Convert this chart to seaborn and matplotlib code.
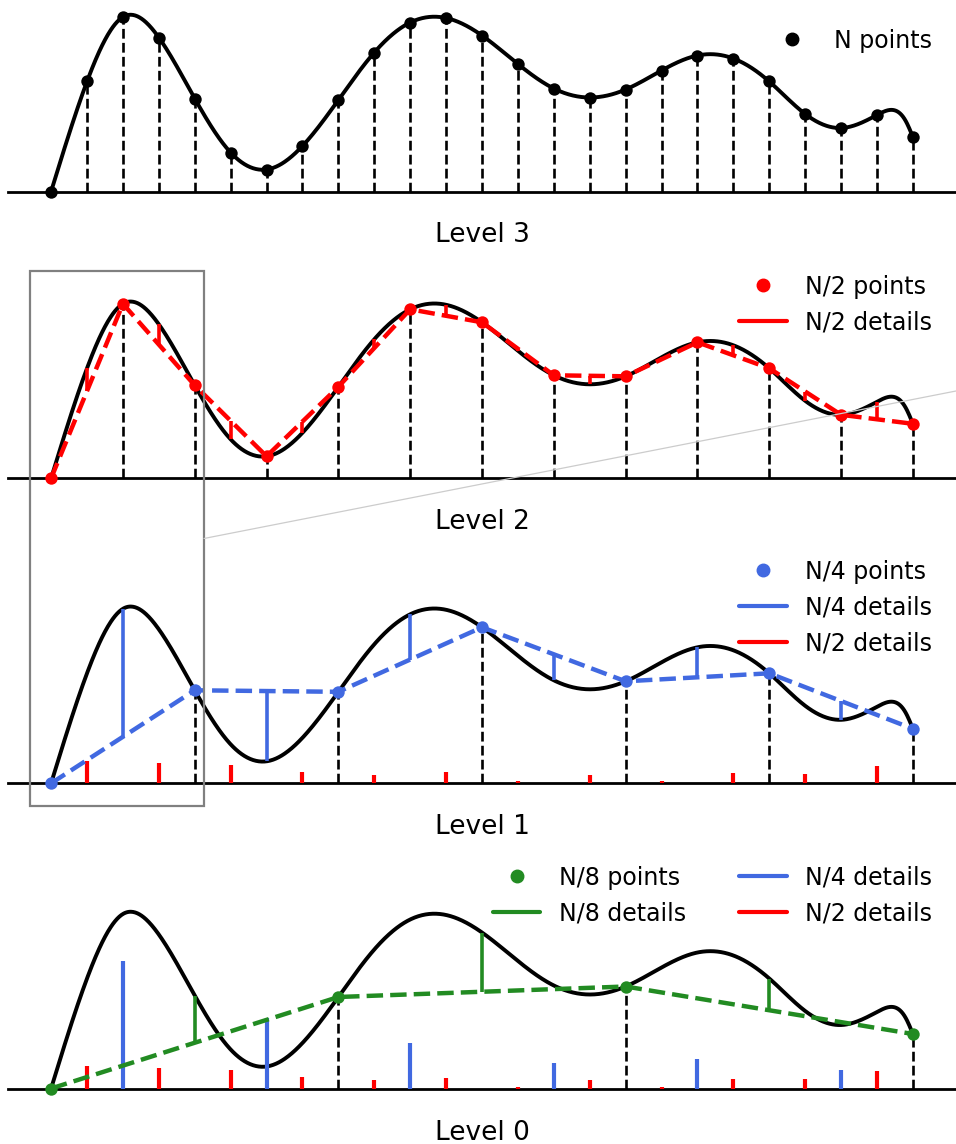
import numpy as np
import matplotlib
matplotlib.use("Agg")
import matplotlib.pyplot as plt
from matplotlib.lines import Line2D
from matplotlib.patches import Rectangle
import seaborn as sns

# ---- data -------------------------------------------------------------
# signal samples at x = 0, 1, ..., 24 (N points)
sample_x = np.arange(25)
sample_y = np.array([0.00, 1.10, 1.745, 1.54, 0.93, 0.39, 0.22, 0.455, 0.915,
                     1.39, 1.69, 1.735, 1.56, 1.275, 1.03, 0.94, 1.02, 1.21,
                     1.36, 1.33, 1.10, 0.775, 0.635, 0.765, 0.545])
# extra values of the underlying signal near its right end
tail_x = np.array([23.45, 23.8])
tail_y = np.array([0.815, 0.705])

level_names = ["Level 3", "Level 2", "Level 1", "Level 0"]
legend_labels = [
    ["N points"],
    ["N/2 points", "N/2 details"],
    ["N/4 points", "N/4 details", "N/2 details"],
    ["N/8 points", "N/8 details", "N/4 details", "N/2 details"],
]

RED, BLUE, GREEN = "#ff0000", "#4169e1", "#228b22"

# ---- smooth signal ----------------------------------------------------
knot_x = np.concatenate([sample_x.astype(float), tail_x])
knot_y = np.concatenate([sample_y, tail_y])
order = np.argsort(knot_x)
knot_x, knot_y = knot_x[order], knot_y[order]


def natural_spline(x, y, xs):
    n = len(x)
    h = np.diff(x)
    A = np.zeros((n, n))
    b = np.zeros(n)
    A[0, 0] = A[-1, -1] = 1.0
    for i in range(1, n - 1):
        A[i, i - 1] = h[i - 1]
        A[i, i] = 2 * (h[i - 1] + h[i])
        A[i, i + 1] = h[i]
        b[i] = 3 * ((y[i + 1] - y[i]) / h[i] - (y[i] - y[i - 1]) / h[i - 1])
    c = np.linalg.solve(A, b)
    bb = np.diff(y) / h - h * (2 * c[:-1] + c[1:]) / 3
    d = np.diff(c) / (3 * h)
    idx = np.clip(np.searchsorted(x, xs) - 1, 0, n - 2)
    t = xs - x[idx]
    return y[idx] + bb[idx] * t + c[idx] * t ** 2 + d[idx] * t ** 3


fine_x = np.linspace(0, 24, 1200)
fine_y = natural_spline(knot_x, knot_y, fine_x)

# ---- wavelet-style decomposition ---------------------------------------
def split(step):
    """points kept at this step and details at the in-between positions"""
    keep = sample_x[::2 * step]
    mids = sample_x[step::2 * step]
    pred = (sample_y[mids - step] + sample_y[mids + step]) / 2
    return keep, mids, pred, sample_y[mids] - pred


p2, m1, pred1, d1 = split(1)   # N/2 points, N/2 details
p1, m2, pred2, d2 = split(2)   # N/4 points, N/4 details
p0, m3, pred3, d3 = split(4)   # N/8 points, N/8 details

# ---- figure -------------------------------------------------------------
sns.set_style("white")
plt.rcParams["text.color"] = "black"
plt.rcParams["font.family"] = ["DejaVu Sans"]

W, H = 956, 1144
PX_PER_UNIT = 100.0
fig = plt.figure(figsize=(W / 100, H / 100), dpi=100)

# (baseline, top) of each panel in pixels from the top
panel_px = [(191.5, 5.0), (478.3, 251.0), (783.3, 536.0), (1088.5, 842.0)]
left_px, right_px = 8, 956

axes = []
for base, top in panel_px:
    ax = fig.add_axes([left_px / W, 1 - base / H, (right_px - left_px) / W,
                       (base - top) / H])
    ax.set_xlim(-1.2, 25.2)
    ax.set_ylim(0, (base - top) / PX_PER_UNIT)
    ax.set_xticks([])
    ax.set_yticks([])
    for s in ("top", "left", "right"):
        ax.spines[s].set_visible(False)
    ax.spines["bottom"].set_color("black")
    ax.spines["bottom"].set_linewidth(2.0)
    ax.patch.set_alpha(0)
    axes.append(ax)

CURVE_LW = 2.8
DASH_LW = 3.2
DET_LW = 2.6
BAR_LW = 3.0
MS = 80


def draw_signal(ax):
    sns.lineplot(x=fine_x, y=fine_y, ax=ax, color="black", lw=CURVE_LW,
                 zorder=3, clip_on=False)


def draw_stems(ax, xs):
    ax.vlines(xs, 0, sample_y[xs], colors="black", linestyles="--", lw=1.9,
              zorder=2, clip_on=False)


def draw_points(ax, xs, color):
    sns.scatterplot(x=xs, y=sample_y[xs], ax=ax, color=color, s=MS,
                    linewidth=0, zorder=6, clip_on=False)


def draw_approx(ax, xs, color):
    sns.lineplot(x=xs, y=sample_y[xs], ax=ax, color=color, lw=DASH_LW,
                 linestyle="--", zorder=4, clip_on=False)


def pt_handle(c):
    return Line2D([], [], ls="none", marker="o", ms=9, color=c)


def ln_handle(c):
    return Line2D([], [], color=c, lw=3)


legend_handles = [
    [pt_handle("black")],
    [pt_handle(RED), ln_handle(RED)],
    [pt_handle(BLUE), ln_handle(BLUE), ln_handle(RED)],
    [pt_handle(GREEN), ln_handle(GREEN), ln_handle(BLUE), ln_handle(RED)],
]

# Level 3
ax = axes[0]
draw_stems(ax, sample_x)
draw_signal(ax)
draw_points(ax, sample_x, "black")

# Level 2
ax = axes[1]
draw_stems(ax, p2)
draw_signal(ax)
ax.vlines(m1, pred1, sample_y[m1], colors=RED, lw=DET_LW, zorder=4)
draw_approx(ax, p2, RED)
draw_points(ax, p2, RED)

# Level 1
ax = axes[2]
draw_stems(ax, p1)
draw_signal(ax)
ax.vlines(m2, pred2, sample_y[m2], colors=BLUE, lw=DET_LW, zorder=4)
ax.vlines(m1, 0, np.abs(d1), colors=RED, lw=BAR_LW, zorder=4)
draw_approx(ax, p1, BLUE)
draw_points(ax, p1, BLUE)

# Level 0
ax = axes[3]
draw_stems(ax, p0)
draw_signal(ax)
ax.vlines(m3, pred3, sample_y[m3], colors=GREEN, lw=DET_LW, zorder=4)
ax.vlines(m2, 0, np.abs(d2), colors=BLUE, lw=BAR_LW, zorder=4)
ax.vlines(m1, 0, np.abs(d1), colors=RED, lw=BAR_LW, zorder=4)
draw_approx(ax, p0, GREEN)
draw_points(ax, p0, GREEN)

for i, ax in enumerate(axes):
    ax.legend(legend_handles[i], legend_labels[i], loc="upper right",
              frameon=False, fontsize=17, handlelength=2.0,
              labelspacing=0.5, borderaxespad=0.6, columnspacing=2.25,
              ncol=2 if i == 3 else 1)
    ax.annotate(level_names[i], xy=(0.5, 0), xycoords="axes fraction",
                xytext=(0, -51), textcoords="offset pixels", ha="center",
                va="baseline", fontsize=19)

# zoom box spanning the first interval of levels 2 and 1
fig.add_artist(Rectangle((30 / W, 1 - 806 / H), 174 / W, 535 / H,
                         transform=fig.transFigure, fill=False,
                         ec="#808080", lw=1.6, zorder=10))
fig.add_artist(Line2D([204 / W, 1.0], [1 - 538.5 / H, 1 - 391 / H],
                      transform=fig.transFigure, color="#cccccc", lw=0.9,
                      zorder=10))

fig.savefig("out.png", dpi=100)
